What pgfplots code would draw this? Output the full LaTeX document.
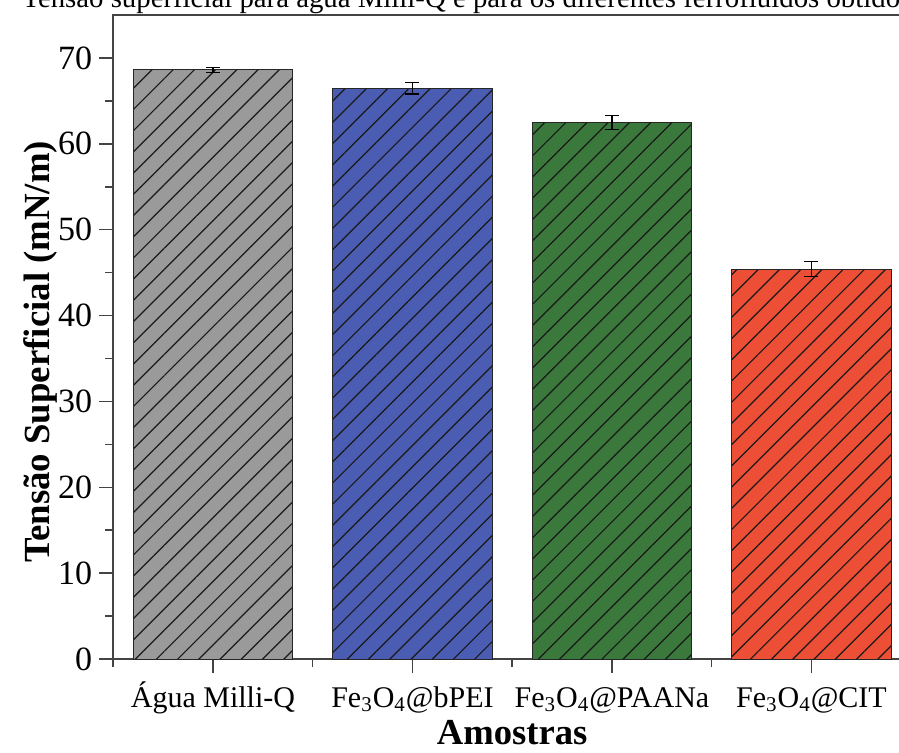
\documentclass[border=0pt]{standalone}
\usepackage{fontspec}
\setmainfont{Liberation Serif}
\usepackage{pgfplots}
\pgfplotsset{compat=1.18}
\usetikzlibrary{patterns.meta}
\definecolor{cgray}{HTML}{9A9A9A}
\definecolor{cblue}{HTML}{4A5DB3}
\definecolor{cgreen}{HTML}{3B783C}
\definecolor{cred}{HTML}{EC4F35}
\definecolor{axc}{HTML}{444444}
\begin{document}
\begin{tikzpicture}
\useasboundingbox (-56.6pt,-46.5pt) rectangle (392.9pt,329.5pt);
\clip (-56.6pt,-46.5pt) rectangle (392.9pt,329.5pt);
\begin{axis}[
  at={(0,0)}, anchor=south west,
  scale only axis, width=399pt, height=322pt,
  xmin=-0.5, xmax=3.5, ymin=0, ymax=75,
  xtick={0,1,2,3},
  xticklabels={Água Milli-Q, Fe\textsubscript{3}O\textsubscript{4}@bPEI, Fe\textsubscript{3}O\textsubscript{4}@PAANa, Fe\textsubscript{3}O\textsubscript{4}@CIT},
  minor xtick={-0.5,0.5,1.5,2.5,3.5},
  ytick={0,10,...,70},
  minor ytick={5,15,...,65},
  tick align=outside,
  major tick length=7pt, minor tick length=4pt,
  xtick pos=lower, ytick pos=left,
  axis line style={draw=axc, line width=0.75pt},
  every tick/.style={axc, line width=0.75pt},
  /pgf/number format/assume math mode=true,
  yticklabel style={font=\fontsize{17pt}{17pt}\selectfont},
  xticklabel style={font=\fontsize{15pt}{15pt}\selectfont, anchor=base, yshift=-17pt},
  xlabel={\textbf{Amostras}},
  ylabel={\textbf{Tensão Superficial (mN/m)}},
  xlabel style={font=\fontsize{18.3pt}{18.3pt}\selectfont, at={(axis description cs:0.5,0)}, anchor=base, yshift=-42.5pt},
  ylabel style={font=\fontsize{18.4pt}{18.4pt}\selectfont, at={(axis description cs:0,0.477)}, anchor=center, yshift=36.5pt},
  ybar, bar width=0.8, bar shift=0pt,
  every axis plot/.append style={draw=black!85, line width=0.5pt,
    postaction={pattern={Lines[angle=45,distance=7.5pt,line width=0.6pt]}, pattern color=black!90}},
  error bars/y dir=both, error bars/y explicit,
  error bars/error bar style={black, line width=0.6pt},
  error bars/error mark options={rotate=90, mark size=3.5pt, black, line width=0.6pt},
]
\addplot[fill=cgray] coordinates {(0,68.6) +- (0,0.3)};
\addplot[fill=cblue] coordinates {(1,66.45) +- (0,0.65)};
\addplot[fill=cgreen] coordinates {(2,62.5) +- (0,0.8)};
\addplot[fill=cred] coordinates {(3,45.4) +- (0,0.85)};
\end{axis}
\node[anchor=base west, font=\fontsize{14.4pt}{14.4pt}\selectfont, inner sep=0pt] at (-45.6pt,326pt) {Tensão superficial para água Milli-Q e para os diferentes ferrofluidos obtidos};
\end{tikzpicture}
\end{document}
